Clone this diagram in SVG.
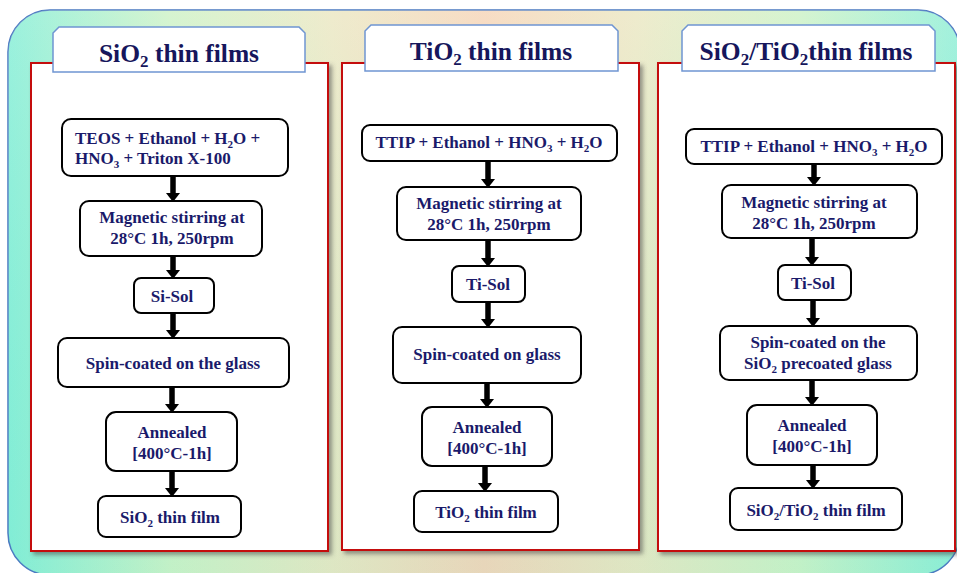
<svg xmlns="http://www.w3.org/2000/svg" width="957" height="573" viewBox="0 0 957 573">
  <defs>
    <linearGradient id="bgGrad" x1="0" y1="0" x2="1" y2="0">
      <stop offset="0" stop-color="#86eed6"/>
      <stop offset="0.17" stop-color="#cdf2c6"/>
      <stop offset="0.34" stop-color="#ebe7c2"/>
      <stop offset="0.5" stop-color="#f6d5b8"/>
      <stop offset="0.66" stop-color="#ebe7c2"/>
      <stop offset="0.83" stop-color="#cdf2c6"/>
      <stop offset="1" stop-color="#8eeed6"/>
    </linearGradient>
    <linearGradient id="bgShade" x1="0" y1="0" x2="0" y2="1">
      <stop offset="0" stop-color="#ffffff" stop-opacity="0.18"/>
      <stop offset="1" stop-color="#40e0d0" stop-opacity="0.08"/>
    </linearGradient>
    <filter id="panelShadow" x="-5%" y="-5%" width="112%" height="112%">
      <feDropShadow dx="3" dy="3" stdDeviation="2" flood-color="#4a4a4a" flood-opacity="0.55"/>
    </filter>
    <marker id="arrowHead" markerUnits="userSpaceOnUse" markerWidth="9" markerHeight="14" viewBox="0 0 9 14" refX="0" refY="7" orient="auto">
      <path d="M0,0 L9,7 L0,14 z" fill="#000"/>
    </marker>
    <style>
      .panel { fill: #ffffff; stroke: #c41010; stroke-width: 2; }
      .tab { fill: #ffffff; stroke: #6f95d2; stroke-width: 1.5; }
      .title { font-family: "Liberation Serif", "Times New Roman", serif; font-weight: bold; font-size: 25.5px; fill: #16165c; text-anchor: middle; }
      .box { fill: #ffffff; stroke: #000000; stroke-width: 2; }
      .lbl { font-family: "Liberation Serif", "Times New Roman", serif; font-weight: bold; font-size: 17px; fill: #1a1a6a; text-anchor: middle; }
      .lbl.left { text-anchor: start; }
      .arrow { stroke: #000000; stroke-width: 5.5; fill: none; marker-end: url(#arrowHead); }
    </style>
  </defs>

  <!-- background card -->
  <rect x="8" y="10" width="952" height="565" rx="42" fill="url(#bgGrad)" stroke="#4a78c0" stroke-width="1.5"/>
  <rect x="8" y="10" width="952" height="565" rx="42" fill="url(#bgShade)"/>

  <!-- column panels -->
  <g id="panel-sio2">
    <rect class="panel" x="31" y="63" width="297" height="488" filter="url(#panelShadow)"/>
  </g>
  <g id="panel-tio2">
    <rect class="panel" x="342" y="63" width="297" height="487" filter="url(#panelShadow)"/>
  </g>
  <g id="panel-sio2-tio2">
    <rect class="panel" x="658" y="63" width="297" height="488" filter="url(#panelShadow)"/>
  </g>

  <!-- column headings -->
  <g id="tab-sio2">
    <path class="tab" d="M59,27 L299,27 L305,33 L305,72 L53,72 L53,33 Z"/>
    <text class="title" x="179" y="62">SiO<tspan font-size="17" dy="5">2</tspan><tspan dy="-5"> thin films</tspan></text>
  </g>
  <g id="tab-tio2">
    <path class="tab" d="M371,25 L612,25 L618,31 L618,71 L365,71 L365,31 Z"/>
    <text class="title" x="491" y="60">TiO<tspan font-size="17" dy="5">2</tspan><tspan dy="-5"> thin films</tspan></text>
  </g>
  <g id="tab-sio2-tio2">
    <path class="tab" d="M688,25 L929,25 L935,31 L935,71 L682,71 L682,31 Z"/>
    <text class="title" x="806" y="60">SiO<tspan font-size="17" dy="5">2</tspan><tspan dy="-5">/TiO</tspan><tspan font-size="17" dy="5">2</tspan><tspan dy="-5">thin films</tspan></text>
  </g>

  <!-- connectors -->
  <g id="connectors">
    <line class="arrow" x1="173" y1="176" x2="173" y2="193"/>
    <line class="arrow" x1="173" y1="256" x2="173" y2="270"/>
    <line class="arrow" x1="173" y1="313" x2="173" y2="330"/>
    <line class="arrow" x1="172" y1="387" x2="172" y2="404"/>
    <line class="arrow" x1="172" y1="471" x2="172" y2="488"/>

    <line class="arrow" x1="488" y1="161" x2="488" y2="179"/>
    <line class="arrow" x1="488" y1="240" x2="488" y2="258"/>
    <line class="arrow" x1="488" y1="302" x2="488" y2="319"/>
    <line class="arrow" x1="487" y1="383" x2="487" y2="399"/>
    <line class="arrow" x1="485" y1="466" x2="485" y2="483"/>

    <line class="arrow" x1="814" y1="164" x2="814" y2="177"/>
    <line class="arrow" x1="812" y1="238" x2="812" y2="257"/>
    <line class="arrow" x1="813" y1="300" x2="813" y2="318"/>
    <line class="arrow" x1="812" y1="380" x2="812" y2="397"/>
    <line class="arrow" x1="813" y1="465" x2="813" y2="480"/>
  </g>

  <!-- SiO2 route -->
  <g id="s1-precursors">
    <rect class="box" x="62" y="119" width="226" height="57" rx="9"/>
    <text class="lbl left" x="75" y="144">TEOS + Ethanol + H<tspan font-size="11" dy="4">2</tspan><tspan dy="-4">O +</tspan></text>
    <text class="lbl left" x="75" y="164">HNO<tspan font-size="11" dy="4">3</tspan><tspan dy="-4"> + Triton X-100</tspan></text>
  </g>
  <g id="s1-stirring">
    <rect class="box" x="80" y="201" width="182" height="55" rx="9"/>
    <text class="lbl" x="172" y="223">Magnetic stirring at</text>
    <text class="lbl" x="172" y="244">28°C 1h, 250rpm</text>
  </g>
  <g id="s1-sol">
    <rect class="box" x="134" y="278" width="80" height="35" rx="7"/>
    <text class="lbl" x="172" y="302">Si-Sol</text>
  </g>
  <g id="s1-spin">
    <rect class="box" x="58" y="338" width="231" height="49" rx="9"/>
    <text class="lbl" x="173" y="369">Spin-coated on the glass</text>
  </g>
  <g id="s1-anneal">
    <rect class="box" x="106" y="412" width="131" height="59" rx="10"/>
    <text class="lbl" x="172" y="438">Annealed</text>
    <text class="lbl" x="172" y="459">[400°C-1h]</text>
  </g>
  <g id="s1-film">
    <rect class="box" x="98" y="496" width="143" height="41" rx="8"/>
    <text class="lbl" x="170" y="523">SiO<tspan font-size="11" dy="4">2</tspan><tspan dy="-4"> thin film</tspan></text>
  </g>

  <!-- TiO2 route -->
  <g id="s2-precursors">
    <rect class="box" x="362" y="125" width="255" height="36" rx="8"/>
    <text class="lbl" x="489" y="148">TTIP + Ethanol + HNO<tspan font-size="11" dy="4">3</tspan><tspan dy="-4"> + H</tspan><tspan font-size="11" dy="4">2</tspan><tspan dy="-4">O</tspan></text>
  </g>
  <g id="s2-stirring">
    <rect class="box" x="397" y="187" width="184" height="53" rx="9"/>
    <text class="lbl" x="489" y="209">Magnetic stirring at</text>
    <text class="lbl" x="489" y="230">28°C 1h, 250rpm</text>
  </g>
  <g id="s2-sol">
    <rect class="box" x="452" y="266" width="73" height="36" rx="7"/>
    <text class="lbl" x="488" y="290">Ti-Sol</text>
  </g>
  <g id="s2-spin">
    <rect class="box" x="393" y="327" width="188" height="56" rx="9"/>
    <text class="lbl" x="487" y="360">Spin-coated on glass</text>
  </g>
  <g id="s2-anneal">
    <rect class="box" x="422" y="407" width="130" height="59" rx="10"/>
    <text class="lbl" x="487" y="433">Annealed</text>
    <text class="lbl" x="487" y="454">[400°C-1h]</text>
  </g>
  <g id="s2-film">
    <rect class="box" x="414" y="491" width="144" height="41" rx="8"/>
    <text class="lbl" x="486" y="518">TiO<tspan font-size="11" dy="4">2</tspan><tspan dy="-4"> thin film</tspan></text>
  </g>

  <!-- SiO2/TiO2 route -->
  <g id="s3-precursors">
    <rect class="box" x="686" y="129" width="256" height="35" rx="8"/>
    <text class="lbl" x="814" y="152">TTIP + Ethanol + HNO<tspan font-size="11" dy="4">3</tspan><tspan dy="-4"> + H</tspan><tspan font-size="11" dy="4">2</tspan><tspan dy="-4">O</tspan></text>
  </g>
  <g id="s3-stirring">
    <rect class="box" x="722" y="185" width="195" height="53" rx="9"/>
    <text class="lbl" x="814" y="208">Magnetic stirring at</text>
    <text class="lbl" x="814" y="229">28°C 1h, 250rpm</text>
  </g>
  <g id="s3-sol">
    <rect class="box" x="778" y="265" width="73" height="35" rx="7"/>
    <text class="lbl" x="813" y="289">Ti-Sol</text>
  </g>
  <g id="s3-spin">
    <rect class="box" x="720" y="326" width="197" height="54" rx="9"/>
    <text class="lbl" x="818" y="348">Spin-coated on the</text>
    <text class="lbl" x="818" y="369">SiO<tspan font-size="11" dy="4">2</tspan><tspan dy="-4"> precoated glass</tspan></text>
  </g>
  <g id="s3-anneal">
    <rect class="box" x="747" y="405" width="130" height="60" rx="10"/>
    <text class="lbl" x="812" y="431">Annealed</text>
    <text class="lbl" x="812" y="452">[400°C-1h]</text>
  </g>
  <g id="s3-film">
    <rect class="box" x="730" y="488" width="172" height="42" rx="8"/>
    <text class="lbl" x="816" y="516">SiO<tspan font-size="11" dy="4">2</tspan><tspan dy="-4">/TiO</tspan><tspan font-size="11" dy="4">2</tspan><tspan dy="-4"> thin film</tspan></text>
  </g>
</svg>
